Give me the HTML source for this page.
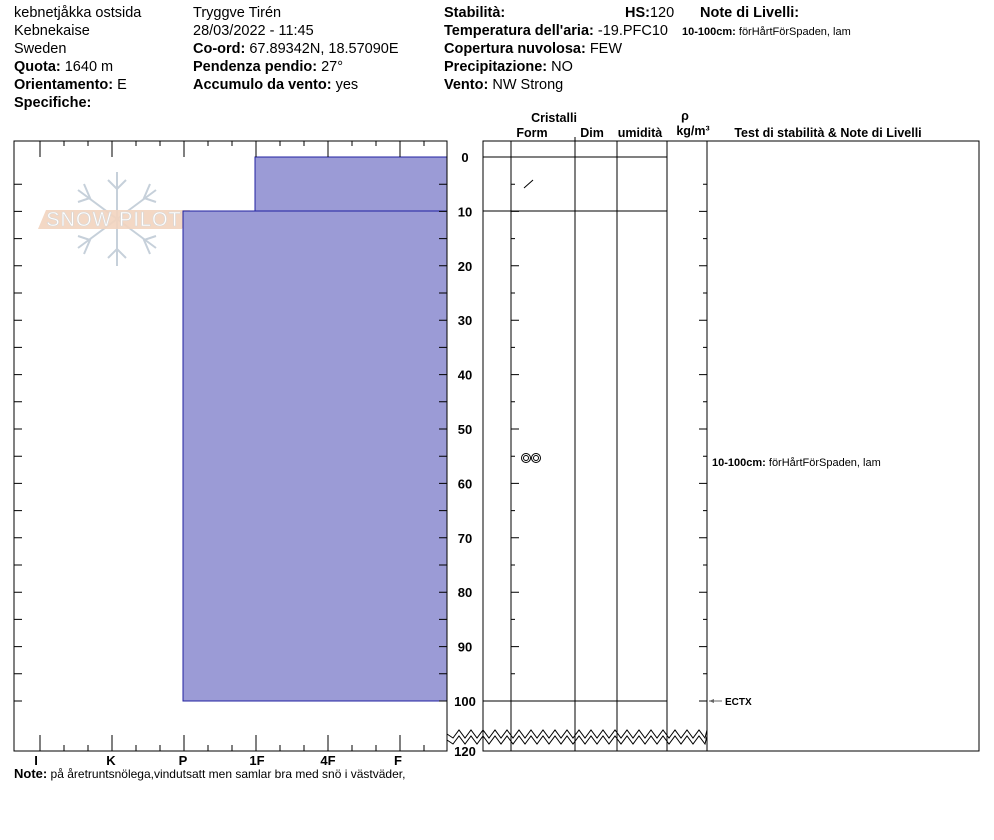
<!DOCTYPE html>
<html><head><meta charset="utf-8"><style>
body{margin:0;background:#fff;width:994px;height:840px;overflow:hidden;font-family:"Liberation Sans",Arial,sans-serif;}
svg{position:absolute;left:0;top:0}
</style></head><body>
<svg id="s" width="994" height="840" xmlns="http://www.w3.org/2000/svg" font-family="Liberation Sans, Arial, sans-serif" font-size="14.5">
<g fill="#000">
<text x="14" y="17">kebnetjåkka ostsida</text>
<text x="14" y="35">Kebnekaise</text>
<text x="14" y="53">Sweden</text>
<text x="14" y="71"><tspan font-weight="bold">Quota:</tspan> 1640 m</text>
<text x="14" y="89"><tspan font-weight="bold">Orientamento:</tspan> E</text>
<text x="14" y="107" font-weight="bold">Specifiche:</text>
<text x="193" y="17">Tryggve  Tirén</text>
<text x="193" y="35">28/03/2022 - 11:45</text>
<text x="193" y="53"><tspan font-weight="bold">Co-ord:</tspan> 67.89342N, 18.57090E</text>
<text x="193" y="71"><tspan font-weight="bold">Pendenza pendio:</tspan> 27°</text>
<text x="193" y="89"><tspan font-weight="bold">Accumulo da vento:</tspan> yes</text>
<text x="444" y="17" font-weight="bold">Stabilità:</text>
<text x="444" y="35"><tspan font-weight="bold">Temperatura dell'aria:</tspan> -19.PFC10</text>
<text x="444" y="53"><tspan font-weight="bold">Copertura nuvolosa:</tspan> FEW</text>
<text x="444" y="71"><tspan font-weight="bold">Precipitazione:</tspan> NO</text>
<text x="444" y="89"><tspan font-weight="bold">Vento:</tspan>  NW Strong</text>
<text x="625" y="17"><tspan font-weight="bold">HS:</tspan>120</text>
<text x="700" y="17" font-weight="bold">Note di Livelli:</text>
<text x="682" y="35" font-size="11"><tspan font-weight="bold">10-100cm:</tspan> förHårtFörSpaden, lam</text>
<g font-size="12.5" font-weight="bold">
<text x="554" y="122" text-anchor="middle">Cristalli</text>
<text x="532" y="137" text-anchor="middle">Form</text>
<text x="592" y="137" text-anchor="middle">Dim</text>
<text x="640" y="137" text-anchor="middle">umidità</text>
<text x="685" y="120" text-anchor="middle">ρ</text>
<text x="693" y="135" text-anchor="middle">kg/m³</text>
<text x="828" y="137" text-anchor="middle">Test di stabilità &amp; Note di Livelli</text>
</g>
</g>
<g stroke="#c6d0da" stroke-width="2" fill="none">
<line x1="117" y1="172" x2="117" y2="266"/><line x1="78" y1="190" x2="156" y2="248"/><line x1="78" y1="248" x2="156" y2="190"/>
<path d="M108 180L117 189L126 180M108 258L117 249L126 258M84 184L90 198L78 202M150 184L144 198L156 202M84 254L90 240L78 236M150 254L144 240L156 236"/>
</g>
<polygon points="46,210 190,210 182,229 38,229" fill="#f2d4bf" opacity="0.9"/>
<text x="114" y="226" text-anchor="middle" font-size="20" fill="#fff" stroke="#d8d8d8" stroke-width="0.6" letter-spacing="1">SNOW PILOT</text>
<rect x="255" y="157" width="192" height="54" fill="#9b9bd6" stroke="#2020a0" stroke-width="1"/>
<rect x="183" y="211" width="264" height="490" fill="#9b9bd6" stroke="#2020a0" stroke-width="1"/>
<g id="lines" stroke="#000" stroke-width="1" fill="none"></g>
<g id="labels" font-weight="bold" font-size="13" text-anchor="middle"></g>
<g font-weight="bold" font-size="13" text-anchor="middle">
<text x="36" y="765">I</text><text x="111" y="765">K</text><text x="183" y="765">P</text><text x="257" y="765">1F</text><text x="328" y="765">4F</text><text x="398" y="765">F</text>
</g>
<text x="14" y="778" font-size="12"><tspan font-weight="bold" font-size="13">Note:</tspan>  på åretruntsnölega,vindutsatt men samlar bra med snö i västväder,</text>
<line x1="524" y1="188" x2="533" y2="180" stroke="#000"/>
<g fill="none" stroke="#000" stroke-width="1"><circle cx="526" cy="458" r="4.5"/><circle cx="536" cy="458" r="4.5"/><circle cx="526" cy="458" r="2.5"/><circle cx="536" cy="458" r="2.5"/></g>
<text x="712" y="466" font-size="11"><tspan font-weight="bold">10-100cm:</tspan> förHårtFörSpaden, lam</text>
<line x1="709" y1="701" x2="722" y2="701" stroke="#666"/><polygon points="709,701 714,699 714,703" fill="#666"/>
<text x="725" y="705" font-size="10" font-weight="bold">ECTX</text>
</svg>
<script>
var L=document.getElementById('lines'),T=document.getElementById('labels');
var ns='http://www.w3.org/2000/svg',d='';
function ln(a,b,c,e){d+='M'+a+' '+b+'L'+c+' '+e;}
function y(v){return 157+5.44*v;}
d+='M14 141H447V751H14Z';
for(var i=0;i<17;i++){var x=40+i*24;if(x>=447)break;var maj=i%3==0;ln(x,141,x,maj?157:146);ln(x,751,x,maj?735:745);}
for(var v=5;v<=100;v+=5){ln(14,y(v),22,y(v));ln(447,y(v),439,y(v));}
d+='M483 141H979V751H483Z';
[511,575,617,667,707].forEach(function(x){ln(x,141,x,751);});
ln(483,157,667,157);ln(483,211,667,211);ln(483,701,667,701);
ln(575,137,575,141);
for(var v=5;v<=100;v+=5){var l=v%10==0?8:4;ln(511,y(v),511+l,y(v));ln(707,y(v),707-l,y(v));}
var p=document.createElementNS(ns,'path');p.setAttribute('d',d);L.appendChild(p);
var w=document.createElementNS(ns,'rect');w.setAttribute('x',446);w.setAttribute('y',732);w.setAttribute('width',262);w.setAttribute('height',12);w.setAttribute('fill','#fff');w.setAttribute('stroke','none');
function zz(yy){var s='M447 '+yy;for(var x=447,k=0;x<707;x+=6,k++){s+='L'+Math.min(x+6,707)+' '+(yy+(k%2?-4:4));}return s;}
[734,740].forEach(function(yy){var z=document.createElementNS(ns,'path');z.setAttribute('d',zz(yy));z.setAttribute('stroke','#000');z.setAttribute('fill','none');L.appendChild(z);});
for(var v=0;v<=100;v+=10){var t=document.createElementNS(ns,'text');t.setAttribute('x',465);t.setAttribute('y',y(v)+5);t.textContent=v;T.appendChild(t);}
var t=document.createElementNS(ns,'text');t.setAttribute('x',465);t.setAttribute('y',756);t.textContent='120';T.appendChild(t);
</script>
</body></html>
